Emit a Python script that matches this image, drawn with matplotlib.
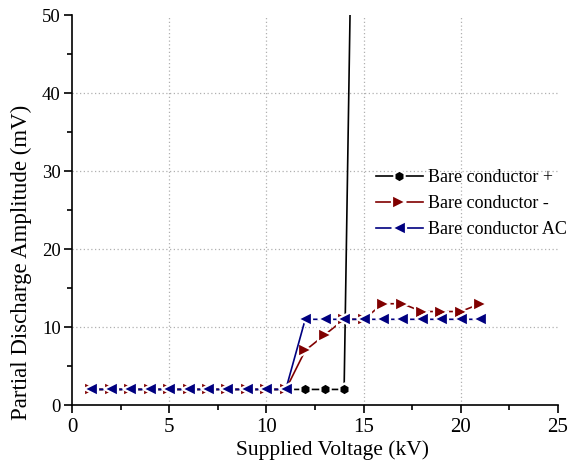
import numpy as np
import matplotlib
matplotlib.use("Agg")
import matplotlib.pyplot as plt
from matplotlib.ticker import MultipleLocator

plt.rcParams['font.family'] = ['Liberation Serif', 'DejaVu Serif']

# Supplied voltage (kV)
voltage_pos = [1, 2, 3, 4, 5, 6, 7, 8, 9, 10, 11, 12, 13, 14, 15]
amp_pos = [2, 2, 2, 2, 2, 2, 2, 2, 2, 2, 2, 2, 2, 2, 160]

voltage_neg = [1, 2, 3, 4, 5, 6, 7, 8, 9, 10, 11, 12, 13, 14, 15, 16, 17, 18, 19, 20, 21]
amp_neg = [2, 2, 2, 2, 2, 2, 2, 2, 2, 2, 2, 7, 9, 11, 11, 13, 13, 12, 12, 12, 13]

voltage_ac = [1, 2, 3, 4, 5, 6, 7, 8, 9, 10, 11, 12, 13, 14, 15, 16, 17, 18, 19, 20, 21]
amp_ac = [2, 2, 2, 2, 2, 2, 2, 2, 2, 2, 2, 11, 11, 11, 11, 11, 11, 11, 11, 11, 11]

x_grid = [5, 10, 15, 20]
y_grid = [10, 20, 30, 40]

fig = plt.figure(figsize=(5.74, 4.65), dpi=100)
ax = fig.add_axes([0.1254, 0.129, 0.8466, 0.8377])

# dotted grid only on interior major ticks
for xv in x_grid:
    ax.axvline(xv, linestyle=(0, (1, 2)), color='#b0b0b0', linewidth=0.9, zorder=0)
for yv in y_grid:
    ax.axhline(yv, linestyle=(0, (1, 2)), color='#b0b0b0', linewidth=0.9, zorder=0)

common = dict(linewidth=1.2, markeredgecolor='white', markeredgewidth=1.6)
ax.plot(voltage_pos, amp_pos, color='black', marker='h', markersize=8.5,
        label='Bare conductor +', zorder=3, **common)
ax.plot(voltage_neg, amp_neg, color='#800000', marker='>', markersize=9.5,
        label='Bare conductor -', zorder=4, **common)
ax.plot(voltage_ac, amp_ac, color='#000080', marker='<', markersize=9.5,
        label='Bare conductor AC', zorder=5, **common)

ax.set_xlim(0, 25)
ax.set_ylim(0, 50)
ax.xaxis.set_major_locator(MultipleLocator(5))
ax.xaxis.set_minor_locator(MultipleLocator(2.5))
ax.yaxis.set_major_locator(MultipleLocator(10))
ax.yaxis.set_minor_locator(MultipleLocator(5))
ax.tick_params(which='both', direction='out', width=1.2)
ax.tick_params(axis='x', labelsize=15)
ax.tick_params(axis='y', labelsize=13.5, pad=2)
ax.tick_params(which='major', length=6)
ax.tick_params(which='minor', length=3.5)

for s in ['top', 'right']:
    ax.spines[s].set_visible(False)
for s in ['left', 'bottom']:
    ax.spines[s].set_linewidth(1.2)

ax.set_xlabel('Supplied Voltage (kV)', fontsize=15.5)
ax.set_ylabel('Partial Discharge Amplitude (mV)', fontsize=16.5)
ax.xaxis.set_label_coords(0.537, -0.09)
ax.yaxis.set_label_coords(-0.082, 0.367)

ax.legend(loc='upper left', bbox_to_anchor=(0.592, 0.647), frameon=False,
          fontsize=13, handlelength=2.6, handletextpad=0.3, labelspacing=0.5)

fig.savefig('out.png', dpi=100)
